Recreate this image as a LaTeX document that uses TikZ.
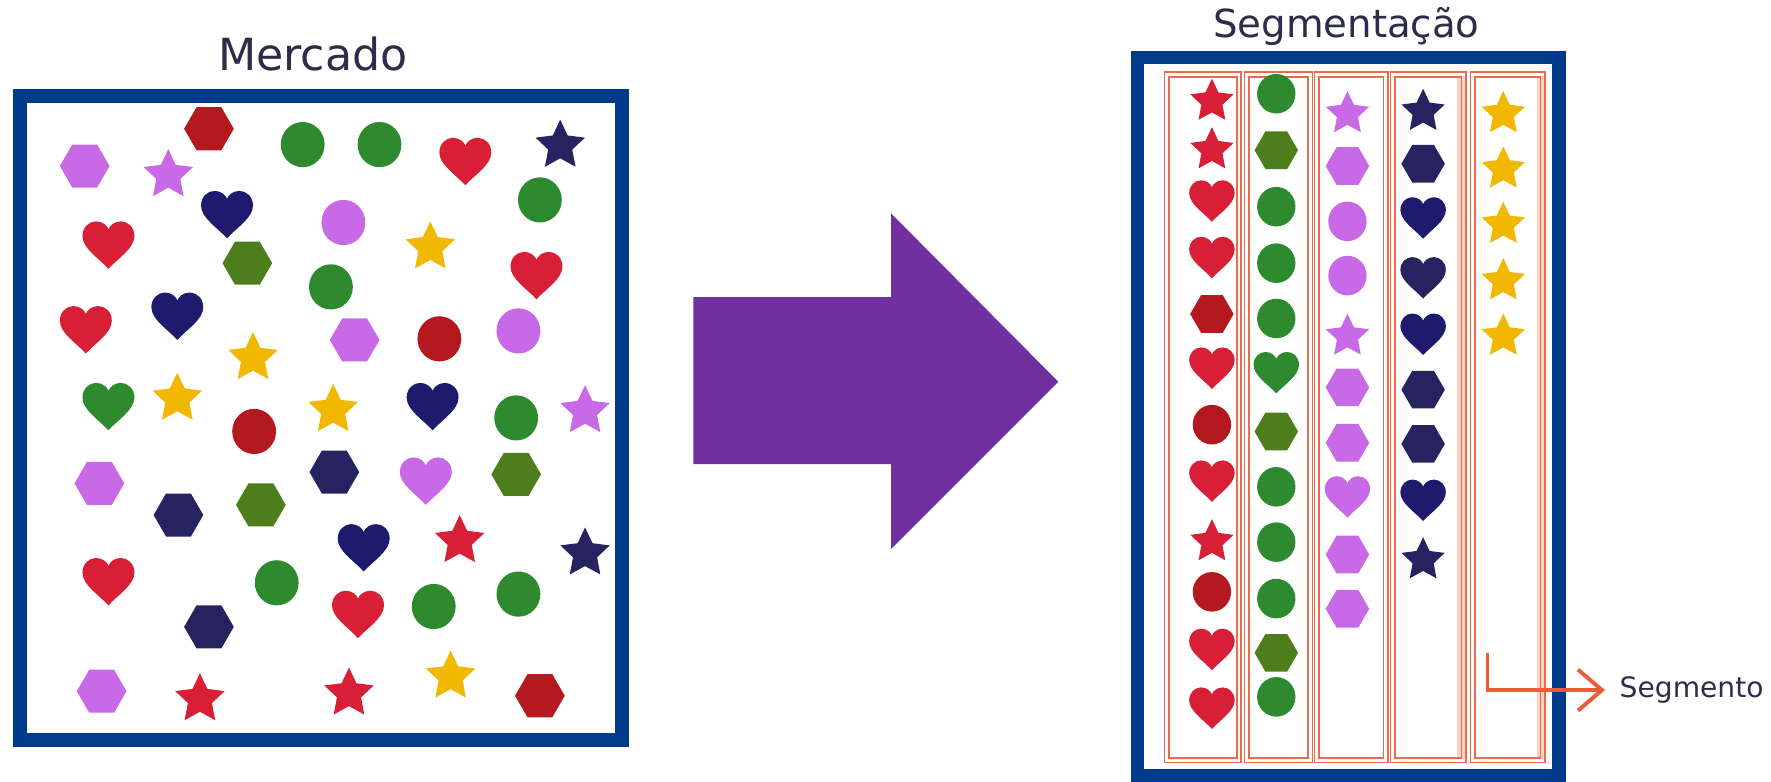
\documentclass[tikz,border=0pt]{standalone}
\usepackage{fontspec}
\setmainfont{DejaVu Sans}
\usetikzlibrary{arrows.meta}

\definecolor{boxblue}{HTML}{003A8A}
\definecolor{mkred}{HTML}{D81F35}
\definecolor{mkdred}{HTML}{B3191E}
\definecolor{mkgreen}{HTML}{2D8A2F}
\definecolor{mkolive}{HTML}{4E7E1C}
\definecolor{mkviolet}{HTML}{C86AE8}
\definecolor{mknavy}{HTML}{272360}
\definecolor{mkblue}{HTML}{1E1B6E}
\definecolor{mkyellow}{HTML}{F2B800}
\definecolor{bigpurple}{HTML}{7030A0}
\definecolor{segred}{HTML}{EE6A4C}
\definecolor{segband}{HTML}{F8D3C6}
\definecolor{segarrowc}{HTML}{EE5A32}
\definecolor{titletext}{HTML}{2D2D4A}

\tikzset{
  % frames of the two boxes
  boxframe/.style={draw=boxblue, line width=3.9pt},
  % titles above the boxes
  boxtitle/.style={text=titletext, anchor=base},
  % one market segment (thin double line)
  segcol/.style={draw=segred, line width=0.45pt},
  % pointer to the label
  segpointer/.style={draw=segarrowc, line width=1.1pt,
    -{Straight Barb[length=2.4mm, width=4.1mm, line width=1.1pt]}},
  seglabel/.style={font=\fontsize{8}{10}\selectfont, text=titletext,
    anchor=west, inner sep=4pt},
}

% shapes: x, y (picture pixels, y downwards), colour, size
\newcommand{\mkcirc}[4]{%
  \begin{scope}[shift={(#1,-#2)}, scale=#4]
    \fill[#3] (0,0) ellipse (0.97 and 1);
  \end{scope}
}
\newcommand{\mkhex}[4]{%
  \begin{scope}[shift={(#1,-#2)}, scale=#4]
    \fill[#3] (0:1.1) -- (60:1.1) -- (120:1.1) -- (180:1.1) -- (240:1.1) -- (300:1.1) -- cycle;
  \end{scope}
}
\newcommand{\mkheart}[4]{%
  \begin{scope}[shift={(#1,-#2)}, scale=#4]
    \fill[#3] (0,-1.05) .. controls (-0.4,-0.6) and (-1.15,-0.15) .. (-1.15,0.4)
      .. controls (-1.15,0.8) and (-0.85,1.05) .. (-0.55,1.05)
      .. controls (-0.25,1.05) and (-0.05,0.85) .. (0,0.7)
      .. controls (0.05,0.85) and (0.25,1.05) .. (0.55,1.05)
      .. controls (0.85,1.05) and (1.15,0.8) .. (1.15,0.4)
      .. controls (1.15,-0.15) and (0.4,-0.6) .. (0,-1.05) -- cycle;
  \end{scope}
}
\newcommand{\mkstar}[4]{%
  \begin{scope}[shift={(#1,-#2)}, scale=#4, shift={(0,-0.1)}]
    \fill[#3] (90:1.15) \foreach \a in {90,162,234,306,378} {-- ({\a+36}:0.56) -- ({\a+72}:1.15)} -- cycle;
  \end{scope}
}

\begin{document}
\begin{tikzpicture}[x=0.011295cm, y=0.011295cm]

  \fill[white] (0,0) rectangle (1568,-692);
  \useasboundingbox (0,0) rectangle (1568,-692);

  %% ── Mercado ──
  \node[boxtitle, font=\fontsize{12.6}{15}\selectfont] (mercado) at (277,-62) {Mercado};
  \draw[boxframe] (18,-85) rectangle (551,-655);

  \foreach \x/\y/\c in {268/128/mkgreen, 336/128/mkgreen, 304/197/mkviolet, 478/177/mkgreen,
      293/254/mkgreen, 389/300/mkdred, 459/293/mkviolet, 225/382/mkdred, 457/370/mkgreen,
      245/516/mkgreen, 384/537/mkgreen, 459/526/mkgreen}
    \mkcirc{\x}{\y}{\c}{20};
  \foreach \x/\y/\c in {185/114/mkdred, 75/147/mkviolet, 219/233/mkolive, 314/301/mkviolet,
      88/428/mkviolet, 158/456/mknavy, 231/447/mkolive, 296/418/mknavy, 457/420/mkolive,
      185/555/mknavy, 90/612/mkviolet, 478/616/mkdred}
    \mkhex{\x}{\y}{\c}{20};
  \foreach \x/\y/\c in {412/143/mkred, 201/190/mkblue, 96/217/mkred, 475/244/mkred,
      76/292/mkred, 157/280/mkblue, 96/360/mkgreen, 383/360/mkblue, 377/426/mkviolet,
      322/485/mkblue, 96/515/mkred, 317/544/mkred}
    \mkheart{\x}{\y}{\c}{20};
  \foreach \x/\y/\c in {496/127/mknavy, 149/153/mkviolet, 381/217/mkyellow, 224/315/mkyellow,
      157/351/mkyellow, 295/361/mkyellow, 518/362/mkviolet, 407/477/mkred, 518/488/mknavy,
      177/617/mkred, 309/612/mkred, 399/597/mkyellow}
    \mkstar{\x}{\y}{\c}{20};

  %% ── Arrow ──
  \fill[bigpurple] (614,-263) -- (789,-263) -- (789,-189) -- (937,-338)
    -- (789,-486) -- (789,-411) -- (614,-411) -- cycle;

  %% ── Segmentacao ──
  \node[boxtitle, font=\fontsize{11}{13}\selectfont] (segtitle) at (1192,-33) {Segmentação};

  \fill[segband] (1290,-67) rectangle (1297,-672);
  \fill[segband] (1361,-67) rectangle (1368,-672);
  \foreach \l/\r in {1031/1099, 1102/1162, 1164/1229, 1231/1298, 1302/1368} {
    \draw[segcol] (\l,-64) rectangle (\r,-675);
    \draw[segcol] (\l+4,-68) rectangle (\r-4,-671);
  }
  \draw[boxframe] (1007,-51) rectangle (1380,-687);

  % column 1
  \foreach \s/\y/\c in {star/88/mkred, star/131/mkred, heart/178/mkred, heart/228/mkred,
      hex/278/mkdred, heart/326/mkred, circ/376/mkdred, heart/426/mkred, star/478/mkred,
      circ/524/mkdred, heart/575/mkred, heart/627/mkred}
    {\csname mk\s\endcsname{1073}{\y}{\c}{17.5}}
  % column 2
  \foreach \s/\y/\c in {circ/83/mkgreen, hex/133/mkolive, circ/183/mkgreen, circ/233/mkgreen,
      circ/282/mkgreen, heart/330/mkgreen, hex/382/mkolive, circ/431/mkgreen, circ/480/mkgreen,
      circ/530/mkgreen, hex/578/mkolive, circ/617/mkgreen}
    {\csname mk\s\endcsname{1130}{\y}{\c}{17.5}}
  % column 3
  \foreach \s/\y in {star/99, hex/147, circ/196, circ/244, star/296, hex/343, hex/392,
      heart/440, hex/491, hex/539}
    {\csname mk\s\endcsname{1193}{\y}{mkviolet}{17.5}}
  % column 4
  \foreach \s/\y/\c in {star/97/mknavy, hex/145/mknavy, heart/193/mkblue, heart/246/mknavy,
      heart/296/mkblue, hex/345/mknavy, hex/393/mknavy, heart/443/mkblue, star/494/mknavy}
    {\csname mk\s\endcsname{1260}{\y}{\c}{17.5}}
  % column 5
  \foreach \y in {99,148,197,247,296}
    \mkstar{1331}{\y}{mkyellow}{17.5};

  %% ── Label ──
  \coordinate (segcorner) at (1317,-578);
  \node[seglabel] (segmento) at (1421,-611) {Segmento};
  \draw[segpointer] (segcorner) |- (segmento);

\end{tikzpicture}
\end{document}
